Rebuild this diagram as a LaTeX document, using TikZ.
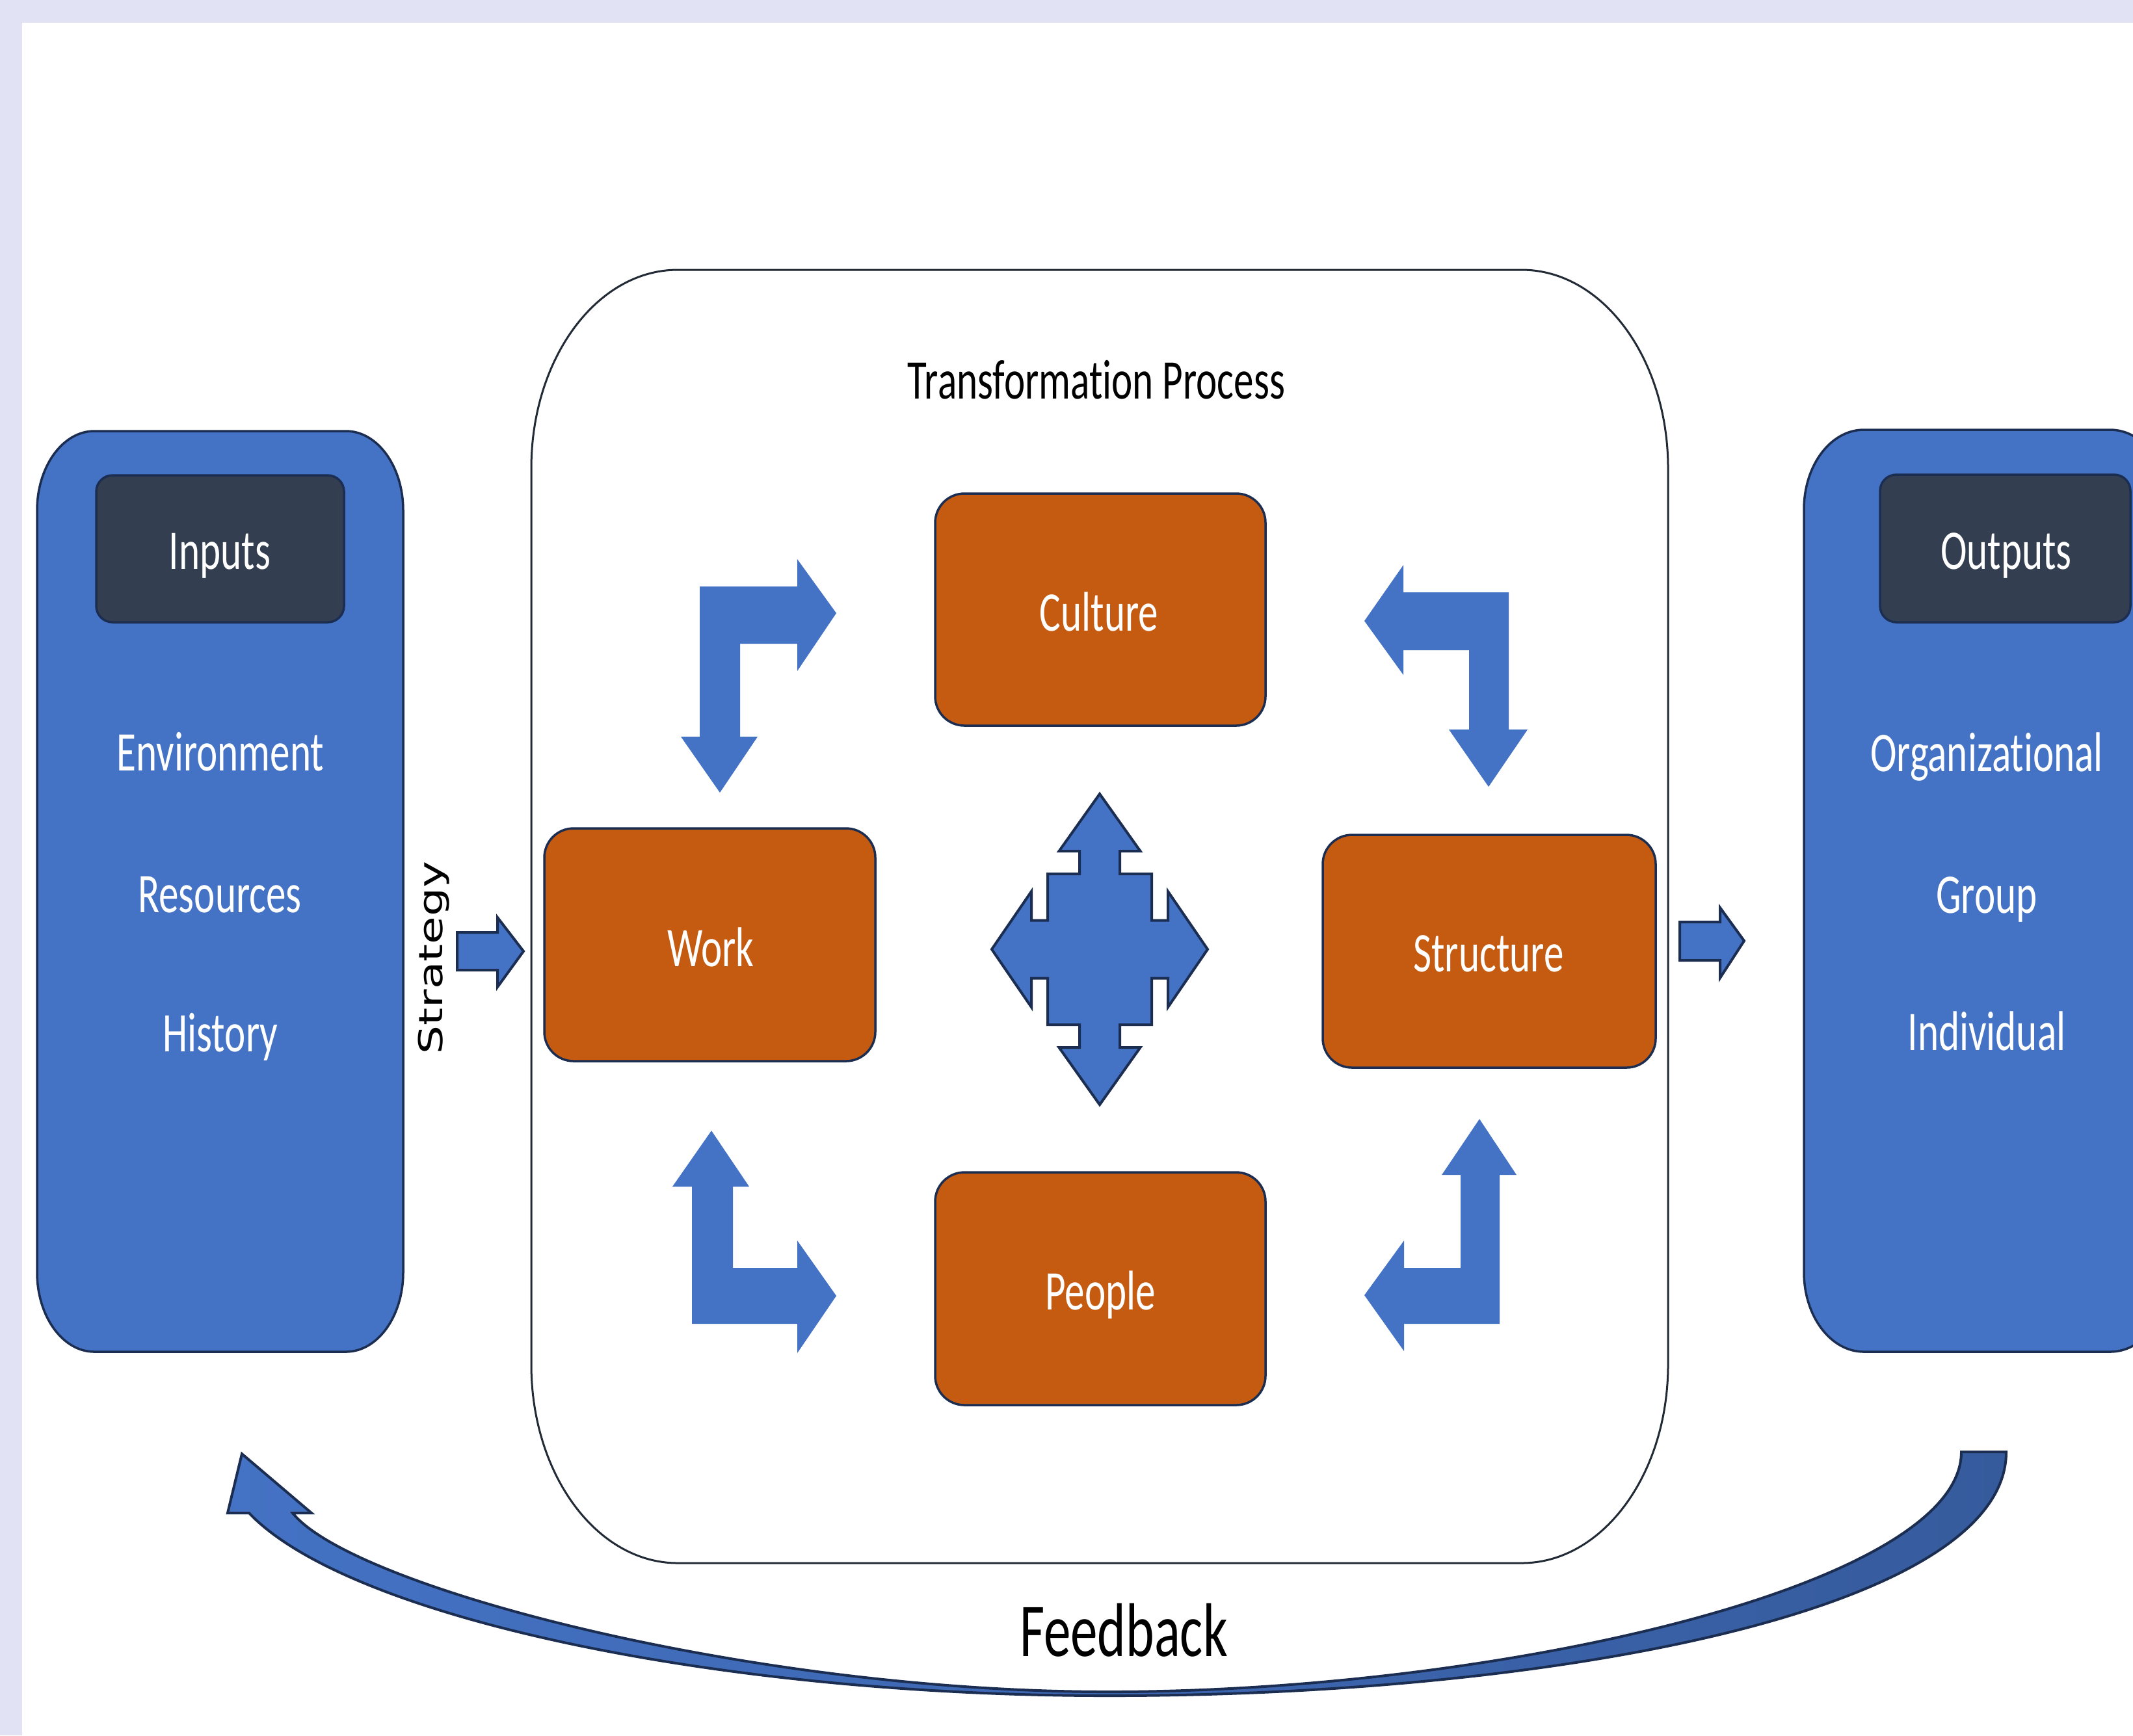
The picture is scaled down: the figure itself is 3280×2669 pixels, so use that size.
\documentclass[tikz,border=0pt]{standalone}
\usepackage{fontspec}
\setmainfont{Carlito}[FakeStretch=0.71, Ligatures=NoCommon]
\newfontfamily\stratfont{DejaVu Sans}[FakeStretch=1.37]
\definecolor{lav}{HTML}{E1E3F4}
\definecolor{bblue}{HTML}{4472C4}
\definecolor{navy}{HTML}{1B2D50}
\definecolor{slate}{HTML}{333F50}
\definecolor{orng}{HTML}{C55A11}
\definecolor{tline}{HTML}{222A35}
\definecolor{fbdark}{HTML}{365B9D}
% elliptical-corner box: #1 style, #2 x1, #3 ytop, #4 x2, #5 ybottom, #6 rx, #7 ry
\newcommand{\ellbox}[7]{%
  \path[#1] ({#2+#6},#3) -- ({#4-#6},#3)
    arc[start angle=90,end angle=0,x radius=#6*0.1mm,y radius=#7*0.1mm]
    -- ({#4},{#5+#7})
    arc[start angle=0,end angle=-90,x radius=#6*0.1mm,y radius=#7*0.1mm]
    -- ({#2+#6},#5)
    arc[start angle=270,end angle=180,x radius=#6*0.1mm,y radius=#7*0.1mm]
    -- ({#2},{#3-#7})
    arc[start angle=180,end angle=90,x radius=#6*0.1mm,y radius=#7*0.1mm]
    -- cycle;}
\tikzset{
  txt/.style={inner sep=0pt, anchor=base, text=white, font=\fontsize{24.5}{29}\selectfont},
  blktxt/.style={txt, text=black},
  obox/.style={draw=navy, line width=0.35mm, fill=orng, rounded corners=4.5mm, inner sep=0pt},
  hbox/.style={draw=navy, line width=0.35mm, fill=slate, rounded corners=2.5mm, inner sep=0pt},
  bigbox/.style={draw=navy, line width=0.35mm, fill=bblue},
  tbox/.style={draw=tline, line width=0.3mm},
  barrow/.style={fill=bblue},
  oarrow/.style={fill=bblue, draw=navy, line width=0.4mm, line join=miter},
}
\begin{document}
\begin{tikzpicture}[x=0.1mm,y=0.1mm]
\useasboundingbox (0,0) rectangle (3280,-2669);
\clip (0,0) rectangle (3280,-2669);
\fill[lav] (0,0) rectangle (3280,-2669);
\fill[white] (34,-35) rectangle (3300,-2700);

% ---------- Inputs ----------
\ellbox{bigbox}{57}{-663}{620}{-2079}{88}{122}
\node[inner sep=0pt, minimum width=56.3mm, minimum height=141.6mm] (inputsbox) at (338.5,-1371) {};
\node[hbox, minimum width=38.1mm, minimum height=22.6mm] (inhead) at (338.5,-844) {};
\node[txt] (inputs) at (338,-875) {Inputs};
\node[txt] (env) at (339,-1185) {Environment};
\node[txt] (res) at (338,-1403) {Resources};
\node[txt] (hist) at (339,-1617) {History};

% ---------- Outputs ----------
\ellbox{bigbox}{2774}{-661}{3337}{-2079}{92}{122}
\node[inner sep=0pt, minimum width=56.3mm, minimum height=141.8mm] (outputsbox) at (3055.5,-1370) {};
\node[hbox, minimum width=38.5mm, minimum height=22.7mm] (outhead) at (3083.5,-843.5) {};
\node[txt] (outputs) at (3085,-875) {Outputs};
\node[txt] (org) at (3055,-1186) {Organizational};
\node[txt] (grp) at (3055,-1404) {Group};
\node[txt] (ind) at (3055,-1615) {Individual};

% ---------- Transformation process ----------
\ellbox{tbox}{817}{-415}{2565}{-2404}{225}{305}
\node[inner sep=0pt, minimum width=174.8mm, minimum height=198.9mm] (tproc) at (1691,-1409.5) {};
\node[blktxt] (ttitle) at (1686,-613) {Transformation Process};

\node[obox, minimum width=50.8mm, minimum height=35.7mm] (culturebox) at (1692,-937.5) {};
\node[obox, minimum width=50.9mm, minimum height=35.8mm] (workbox) at (1091.5,-1453) {};
\node[obox, minimum width=51.2mm, minimum height=35.8mm] (structurebox) at (2290,-1463) {};
\node[obox, minimum width=50.8mm, minimum height=35.8mm] (peoplebox) at (1692,-1982) {};
\node[txt] (culture) at (1690,-970) {Culture};
\node[txt] (work) at (1093,-1486) {Work};
\node[txt] (structure) at (2289,-1494) {Structure};
\node[txt] (people) at (1692,-2014) {People};

% ---------- bent arrows ----------
\fill[barrow] (1076,-902) -- (1226,-902) -- (1226,-860) -- (1286,-943) -- (1226,-1032)
  -- (1226,-990) -- (1138,-990) -- (1138,-1133) -- (1165,-1133) -- (1107,-1219)
  -- (1047,-1133) -- (1076,-1133) -- cycle;
\fill[barrow] (2320,-911) -- (2158,-911) -- (2158,-869) -- (2098,-955) -- (2158,-1038)
  -- (2158,-1000) -- (2259,-1000) -- (2259,-1122) -- (2228,-1122) -- (2289,-1210)
  -- (2349,-1122) -- (2320,-1122) -- cycle;
\fill[barrow] (1064,-2036) -- (1064,-1825) -- (1034,-1825) -- (1094,-1739) -- (1152,-1825)
  -- (1127,-1825) -- (1127,-1950) -- (1226,-1950) -- (1226,-1908) -- (1286,-1993)
  -- (1226,-2081) -- (1226,-2036) -- cycle;
\fill[barrow] (2306,-2036) -- (2306,-1807) -- (2332,-1807) -- (2275,-1721) -- (2217,-1807)
  -- (2246,-1807) -- (2246,-1950) -- (2159,-1950) -- (2159,-1908) -- (2098,-1992)
  -- (2159,-2078) -- (2159,-2036) -- cycle;

% ---------- central four-way arrow ----------
\begin{scope}[shift={(1691,-1460)}]
\coordinate (hub) at (0,0);
\path[oarrow] (0,239) -- (62.5,151) -- (31,151) -- (31,116) -- (80,116) -- (80,44.5)
  -- (105,44.5) -- (105,89) -- (166,0) -- (105,-89) -- (105,-44.5) -- (80,-44.5)
  -- (80,-116) -- (31,-116) -- (31,-151) -- (62.5,-151) -- (0,-239) -- (-62.5,-151)
  -- (-31,-151) -- (-31,-116) -- (-80,-116) -- (-80,-44.5) -- (-105,-44.5) -- (-105,-89)
  -- (-166,0) -- (-105,89) -- (-105,44.5) -- (-80,44.5) -- (-80,116) -- (-31,116)
  -- (-31,151) -- (-62.5,151) -- cycle;
\end{scope}

% ---------- strategy and output arrows ----------
\path[oarrow] (703,-1434) -- (765,-1434) -- (765,-1411) -- (805,-1463) -- (765,-1518)
  -- (765,-1492) -- (703,-1492) -- cycle;
\path[oarrow] (2583,-1418) -- (2645,-1418) -- (2645,-1396) -- (2682,-1447) -- (2645,-1504)
  -- (2645,-1477) -- (2583,-1477) -- cycle;
\node[inner sep=0pt, anchor=base, rotate=90, text=black,
  font={\stratfont\fontsize{14.4}{17}\selectfont}] (strategy) at (680,-1473) {Strategy};

% ---------- feedback ----------
\path[draw=navy, line width=0.4mm, line join=miter, left color=bblue, right color=fbdark]
  (3085,-2233) .. controls (3085,-2475) and (2400,-2608) .. (1705,-2608)
  .. controls (1100,-2608) and (535,-2487) .. (383,-2327)
  -- (350,-2327) -- (372,-2236) -- (479,-2327) -- (450,-2327)
  .. controls (540,-2440) and (1150,-2602) .. (1705,-2602)
  .. controls (2300,-2602) and (3016,-2440) .. (3016,-2233) -- cycle;
\node[blktxt, font=\fontsize{33.3}{40}\selectfont] (feedback) at (1728,-2547) {Feedback};
\end{tikzpicture}
\end{document}
